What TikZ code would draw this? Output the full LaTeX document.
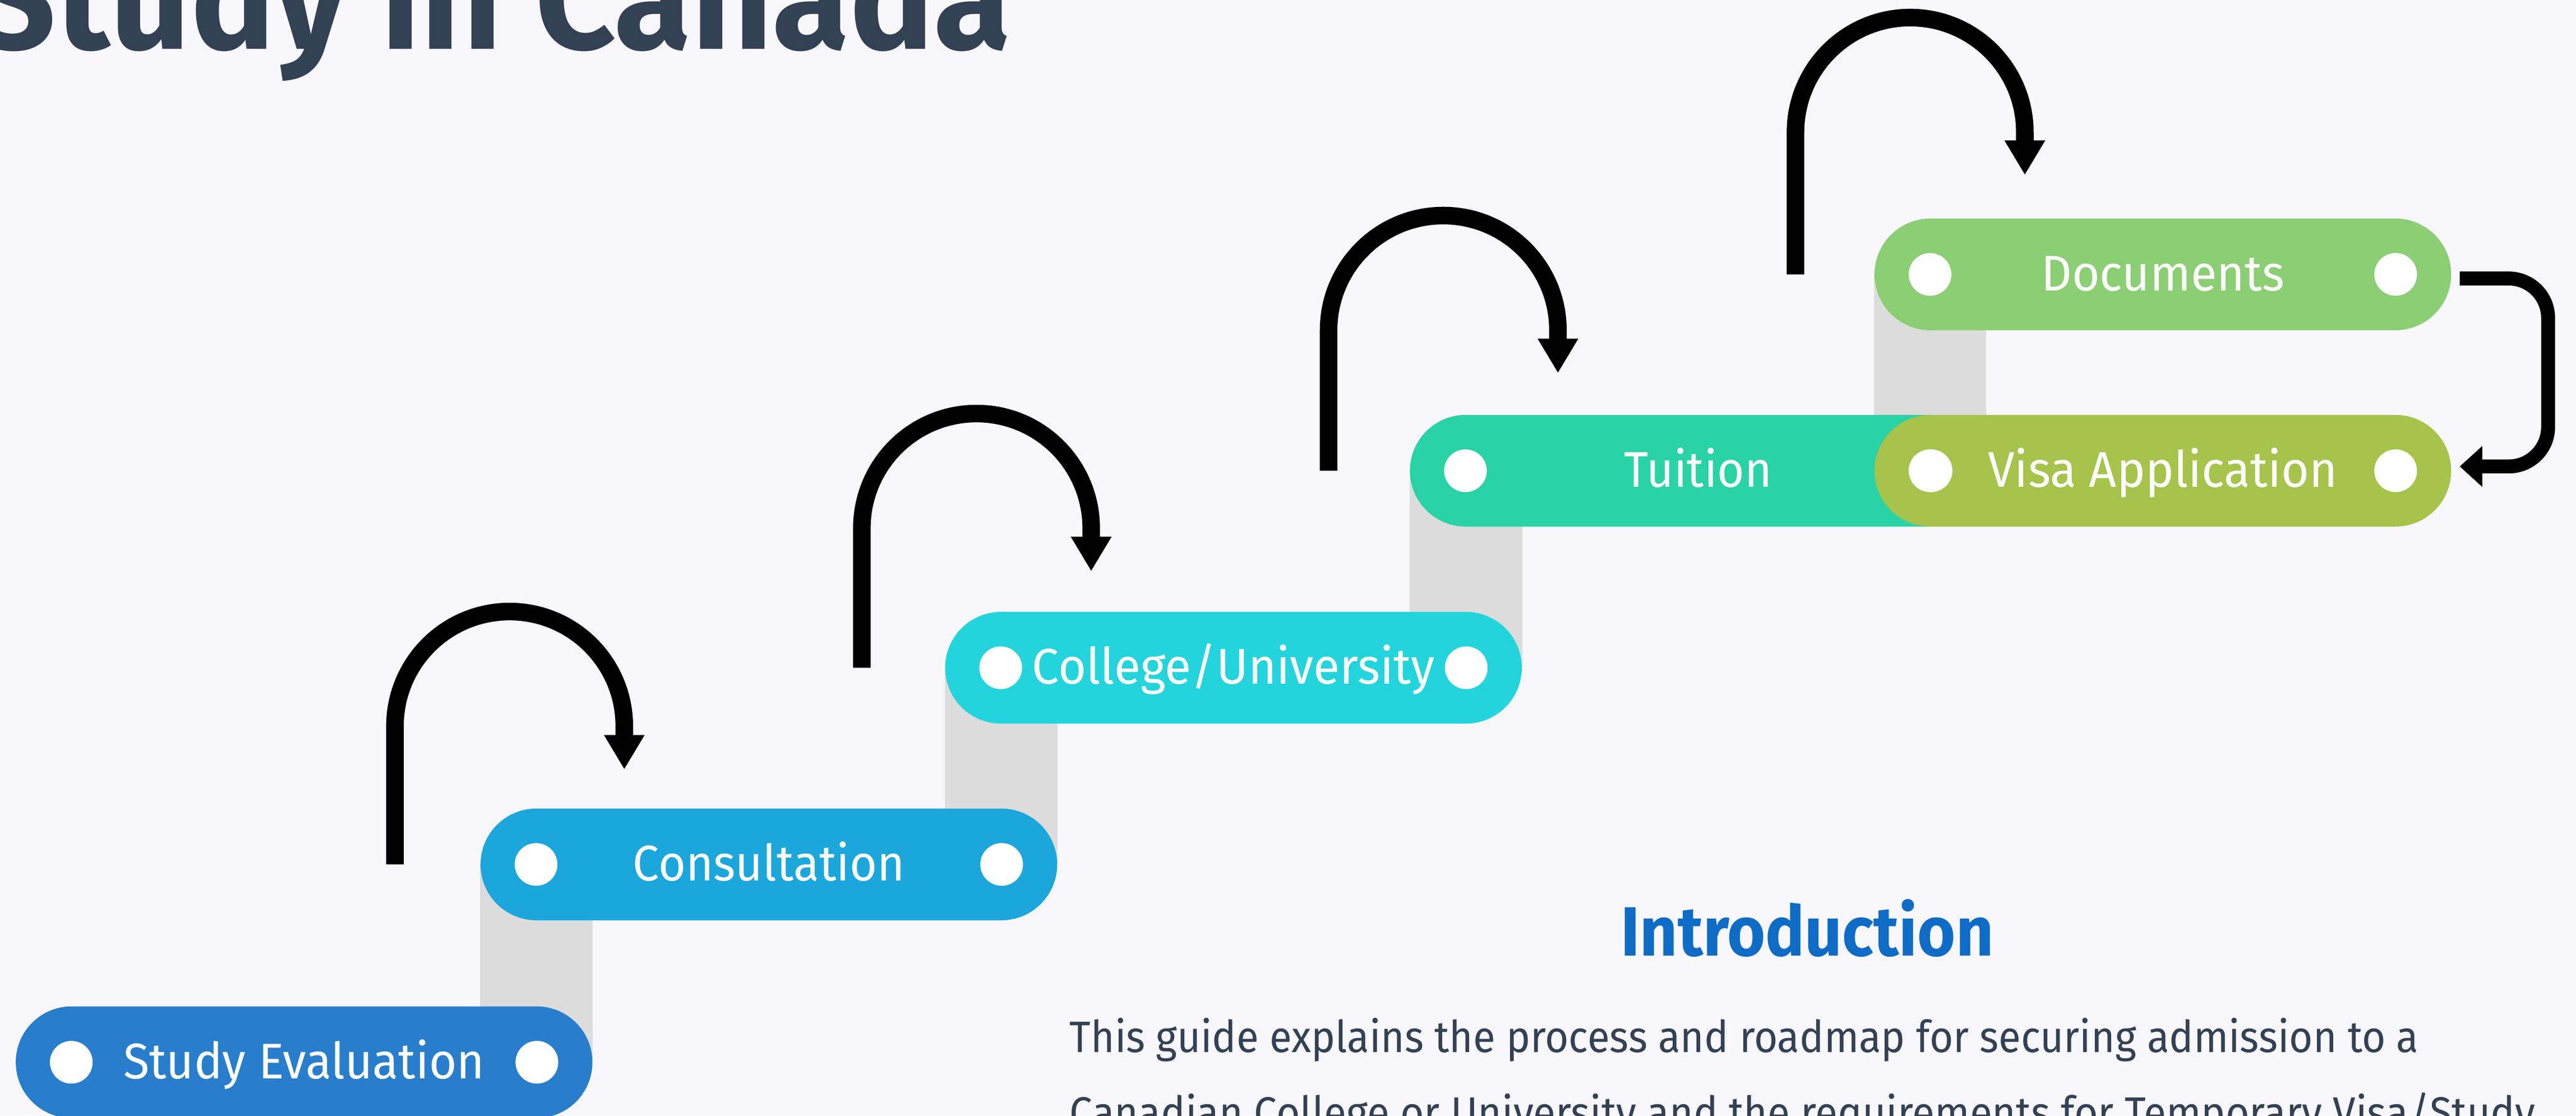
\documentclass[tikz,border=0pt]{standalone}
\usepackage{fontspec}
\setmainfont{Fira Sans}
\usepackage{graphicx}
\usetikzlibrary{arrows.meta,calc}
\definecolor{bgc}{RGB}{248,248,252}
\definecolor{barc}{RGB}{220,220,220}
\definecolor{titlec}{RGB}{51,65,85}
\definecolor{introc}{RGB}{14,108,198}
\definecolor{cA}{RGB}{40,126,204}
\definecolor{cB}{RGB}{27,166,220}
\definecolor{cC}{RGB}{36,212,220}
\definecolor{cD}{RGB}{41,211,166}
\definecolor{cE}{RGB}{139,206,115}
\definecolor{cF}{RGB}{166,195,75}
\pgfdeclarelayer{bars}
\pgfsetlayers{bars,main}
\tikzset{
  pill/.style={rectangle, rounded corners=34pt, minimum width=351pt, minimum height=68pt,
    inner sep=0pt, draw=none, text=white, font=\fontsize{30.5}{36}\selectfont,
    text height=20pt, text depth=0pt},
  dot/.style={circle, fill=white, minimum size=26pt, inner sep=0pt, draw=none},
  bar/.style={fill=barc},
  arcarrow/.style={draw=black, line width=10.7pt, -{Triangle[length=21pt,width=23.2pt]}},
  sidearrow/.style={draw=black, line width=8.5pt, rounded corners=24pt, -{Triangle[length=13.7pt,width=24pt]}}
}
\begin{document}
\begin{tikzpicture}[x=1pt,y=-1pt]
\useasboundingbox (0,0) rectangle (1568,678.9);
\begin{pgfonlayer}{bars}
\fill[bgc] (0,0) rectangle (1568,678.9);
\end{pgfonlayer}

% title
\node[anchor=base west, inner sep=0pt, text=titlec, font=\fontsize{88}{100}\selectfont\bfseries] (title) at (-15,30) {\resizebox{630pt}{\height}{Study in Canada}};

% pills
\node[pill, fill=cA] (p0) at (185.1,646.5) {\resizebox{220pt}{\height}{Study Evaluation}};
\node[pill, fill=cB] (p1) at (468.0,526.1) {\resizebox{165.5pt}{\height}{Consultation}};
\node[pill, fill=cC] (p2) at (750.8,406.4) {\resizebox{245pt}{\height}{College/University}};
\node[pill, fill=cD] (p3) at (1033.7,286.5) {\resizebox{90pt}{\height}{Tuition}};
\node[pill, fill=cE] (p4) at (1316.5,167.0) {\resizebox{148pt}{\height}{Documents}};
\node[pill, fill=cF] (p5) at (1316.5,286.5) {\resizebox{213pt}{\height}{Visa Application}};

% dots
\foreach \p in {p0,p1,p2,p3,p4,p5}{
  \node[dot] (\p l) at ($(\p.west)+(34,0)$) {};
  \node[dot] (\p r) at ($(\p.east)+(-34,0)$) {};
}

% grey connecting bars
\begin{pgfonlayer}{bars}
\fill[bar] (p1.west) rectangle (p0.east);
\fill[bar] (p2.west) rectangle (p1.east);
\fill[bar] (p3.west) rectangle (p2.east);
\fill[bar] (p4.west) rectangle ($(p5.west)+(68,0)$);
\end{pgfonlayer}

% curved arrows
\coordinate (s1) at (240.4,526.1); \coordinate (t1) at (380.0,468.3);
\coordinate (s2) at (524.6,406.4); \coordinate (t2) at (664.2,347.7);
\coordinate (s3) at (808.7,286.5); \coordinate (t3) at (948.3,227.1);
\coordinate (s4) at (1092.9,167.0); \coordinate (t4) at (1232.5,106.5);
\draw[arcarrow] (s1) -- (240.4,442) .. controls (240.4,403.45) and (271.65,372.2) .. (310.2,372.2) .. controls (348.75,372.2) and (380,403.45) .. (380,442) -- (t1);
\draw[arcarrow] (s2) -- (524.6,321.5) .. controls (524.6,282.95) and (555.85,251.7) .. (594.4,251.7) .. controls (632.95,251.7) and (664.2,282.95) .. (664.2,321.5) -- (t2);
\draw[arcarrow] (s3) -- (808.7,201) .. controls (808.7,162.45) and (839.95,131.2) .. (878.5,131.2) .. controls (917.05,131.2) and (948.3,162.45) .. (948.3,201) -- (t3);
\draw[arcarrow] (s4) -- (1092.9,80.5) .. controls (1092.9,41.95) and (1124.15,10.7) .. (1162.7,10.7) .. controls (1201.25,10.7) and (1232.5,41.95) .. (1232.5,80.5) -- (t4);

% side arrow Documents -> Visa Application
\coordinate (ra1) at ($(p4.east)+(5,2.5)$);
\coordinate (ra2) at ($(p5.east)+(5,-2.6)$);
\draw[sidearrow] (ra1) -- ++(53.8,0) |- (ra2);

% introduction
\node[anchor=base, inner sep=0pt, text=introc, font=\fontsize{42.5}{50}\selectfont\bfseries] (intro) at (1100,581.6) {\resizebox{227pt}{\height}{Introduction}};
\node[anchor=base west, inner sep=0pt, text=titlec, font=\fontsize{26.8}{32}\selectfont] (body1) at (651,640.5) {\resizebox{821pt}{\height}{This guide explains the process and roadmap for securing admission to a}};
\node[anchor=base west, inner sep=0pt, text=titlec, font=\fontsize{26.8}{32}\selectfont] (body2) at (651,686.4) {\resizebox{892pt}{\height}{Canadian College or University and the requirements for Temporary Visa/Study}};
\end{tikzpicture}
\end{document}
